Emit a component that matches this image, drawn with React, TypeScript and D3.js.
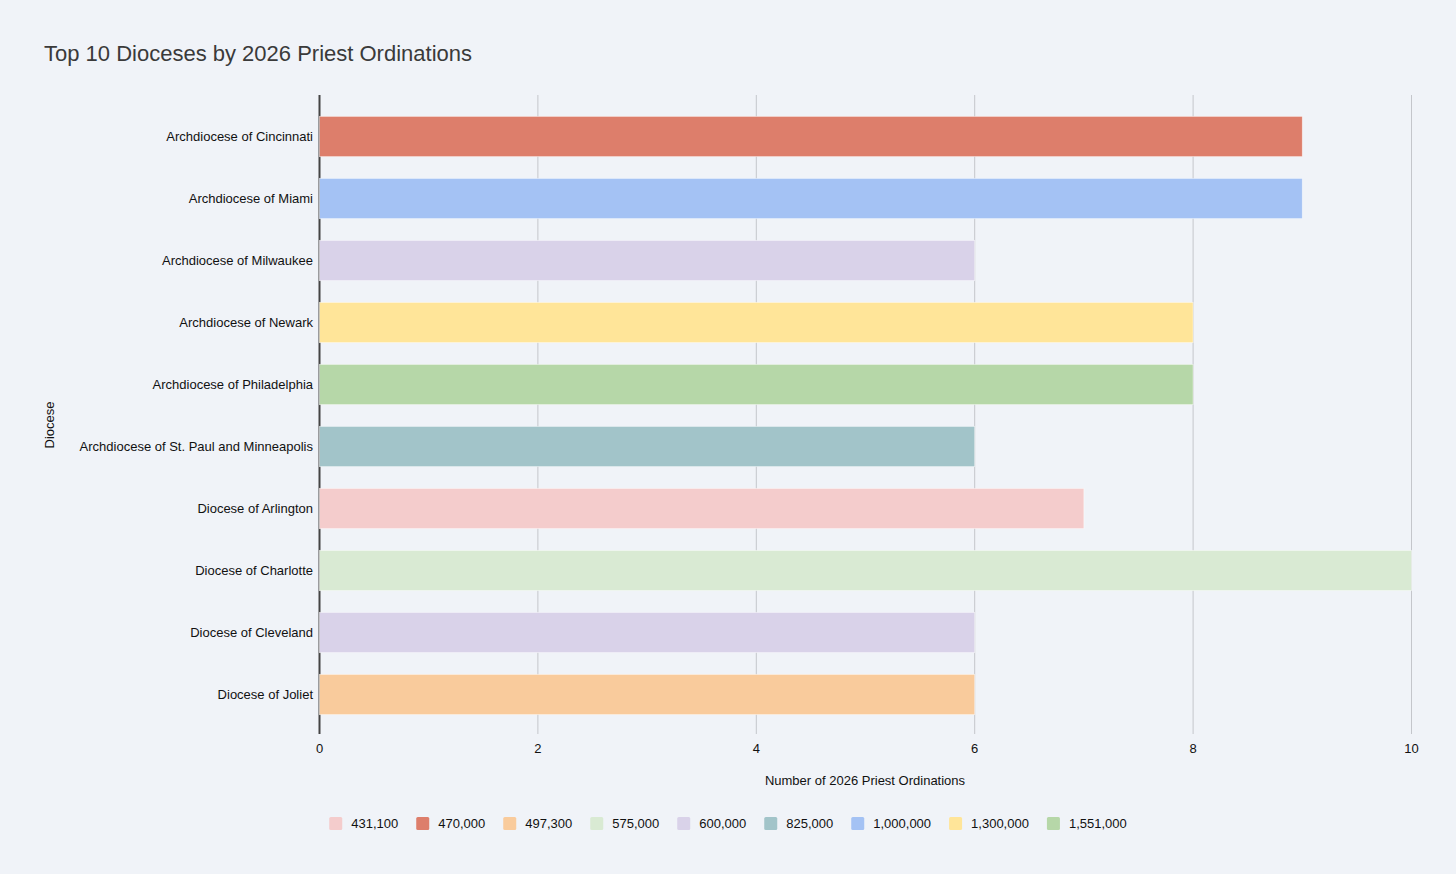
import React, { useRef, useEffect } from "react";
import * as d3 from "d3";

const dioceses = [
  "Archdiocese of Cincinnati",
  "Archdiocese of Miami",
  "Archdiocese of Milwaukee",
  "Archdiocese of Newark",
  "Archdiocese of Philadelphia",
  "Archdiocese of St. Paul and Minneapolis",
  "Diocese of Arlington",
  "Diocese of Charlotte",
  "Diocese of Cleveland",
  "Diocese of Joliet",
];
const ordinations = [9, 9, 6, 8, 8, 6, 7, 10, 6, 6];
const catholicPop = [
  "470,000",
  "1,000,000",
  "600,000",
  "1,300,000",
  "1,551,000",
  "825,000",
  "431,100",
  "575,000",
  "600,000",
  "497,300",
];
const legendKeys = [
  "431,100",
  "470,000",
  "497,300",
  "575,000",
  "600,000",
  "825,000",
  "1,000,000",
  "1,300,000",
  "1,551,000",
];
const legendColors = [
  "#f4cccc",
  "#dd7e6b",
  "#f9cb9c",
  "#d9ead3",
  "#d9d2e9",
  "#a2c4c9",
  "#a4c2f4",
  "#ffe599",
  "#b6d7a8",
];
const xTicks = [0, 2, 4, 6, 8, 10];

const App: React.FC = () => {
  const ref = useRef<SVGSVGElement | null>(null);

  useEffect(() => {
    document.body.style.margin = "0";
    if (!ref.current) return;
    const svg = d3.select(ref.current);
    svg.selectAll("*").remove();

    const width = 1456;
    const height = 874;
    const font = "'Liberation Sans', Arial, sans-serif";
    const plotTop = 95;
    const plotBottom = 734;

    svg.append("rect").attr("width", width).attr("height", height).attr("fill", "#f0f3f8");

    const x = d3.scaleLinear().domain([0, 10]).range([319.5, 1411.5]);
    const y = d3
      .scaleBand()
      .domain(dioceses)
      .range([105.5, 725.5])
      .paddingInner(0.35)
      .paddingOuter(0.175);
    const color = d3.scaleOrdinal<string, string>().domain(legendKeys).range(legendColors);

    // title
    svg
      .append("text")
      .attr("x", 44)
      .attr("y", 61)
      .attr("font-family", font)
      .attr("font-size", 22)
      .attr("fill", "#3a3a3a")
      .text("Top 10 Dioceses by 2026 Priest Ordinations");

    // vertical grid
    svg
      .append("g")
      .selectAll("line")
      .data(xTicks.filter((t) => t !== 0))
      .join("line")
      .attr("x1", (d) => x(d))
      .attr("x2", (d) => x(d))
      .attr("y1", plotTop)
      .attr("y2", plotBottom)
      .attr("stroke", "#c4c6cb")
      .attr("stroke-width", 1);

    // zero line
    svg
      .append("line")
      .attr("x1", x(0))
      .attr("x2", x(0))
      .attr("y1", plotTop)
      .attr("y2", plotBottom)
      .attr("stroke", "#444")
      .attr("stroke-width", 2);

    // bars
    svg
      .append("g")
      .selectAll("rect")
      .data(dioceses)
      .join("rect")
      .attr("x", x(0))
      .attr("y", (d) => y(d)!)
      .attr("width", (d, i) => x(ordinations[i]) - x(0))
      .attr("height", y.bandwidth())
      .attr("fill", (d, i) => color(catholicPop[i]))
      .attr("stroke", "#ffffff")
      .attr("stroke-opacity", 0.6)
      .attr("stroke-width", 0.8);

    // x tick labels
    svg
      .append("g")
      .selectAll("text")
      .data(xTicks)
      .join("text")
      .attr("x", (d) => x(d))
      .attr("y", 753)
      .attr("text-anchor", "middle")
      .attr("font-family", font)
      .attr("font-size", 13)
      .attr("fill", "#111")
      .text((d) => d);

    // y category labels
    svg
      .append("g")
      .selectAll("text")
      .data(dioceses)
      .join("text")
      .attr("x", 313)
      .attr("y", (d) => y(d)! + y.bandwidth() / 2)
      .attr("dy", "0.35em")
      .attr("text-anchor", "end")
      .attr("font-family", font)
      .attr("font-size", 13)
      .attr("fill", "#111")
      .text((d) => d);

    // axis titles
    svg
      .append("text")
      .attr("x", 865)
      .attr("y", 785)
      .attr("text-anchor", "middle")
      .attr("font-family", font)
      .attr("font-size", 13)
      .attr("fill", "#111")
      .text("Number of 2026 Priest Ordinations");

    svg
      .append("text")
      .attr("transform", "translate(54,425) rotate(-90)")
      .attr("text-anchor", "middle")
      .attr("font-family", font)
      .attr("font-size", 13)
      .attr("fill", "#111")
      .text("Diocese");

    // legend
    const legend = svg.append("g");
    let cx = 0;
    legendKeys.forEach((k, i) => {
      const item = legend.append("g").attr("transform", `translate(${cx},0)`);
      item
        .append("rect")
        .attr("x", 0)
        .attr("y", 817)
        .attr("width", 13)
        .attr("height", 13)
        .attr("rx", 1.5)
        .attr("fill", legendColors[i]);
      const t = item
        .append("text")
        .attr("x", 22)
        .attr("y", 823.5)
        .attr("dy", "0.35em")
        .attr("font-family", font)
        .attr("font-size", 13)
        .attr("fill", "#111")
        .text(k);
      const w = (t.node() as SVGTextElement).getComputedTextLength();
      cx += 22 + w + 18;
    });
    const total = cx - 18;
    legend.attr("transform", `translate(${728 - total / 2},0)`);
  }, []);

  return <svg ref={ref} width={1456} height={874} style={{ display: "block" }} />;
};

export default App;
